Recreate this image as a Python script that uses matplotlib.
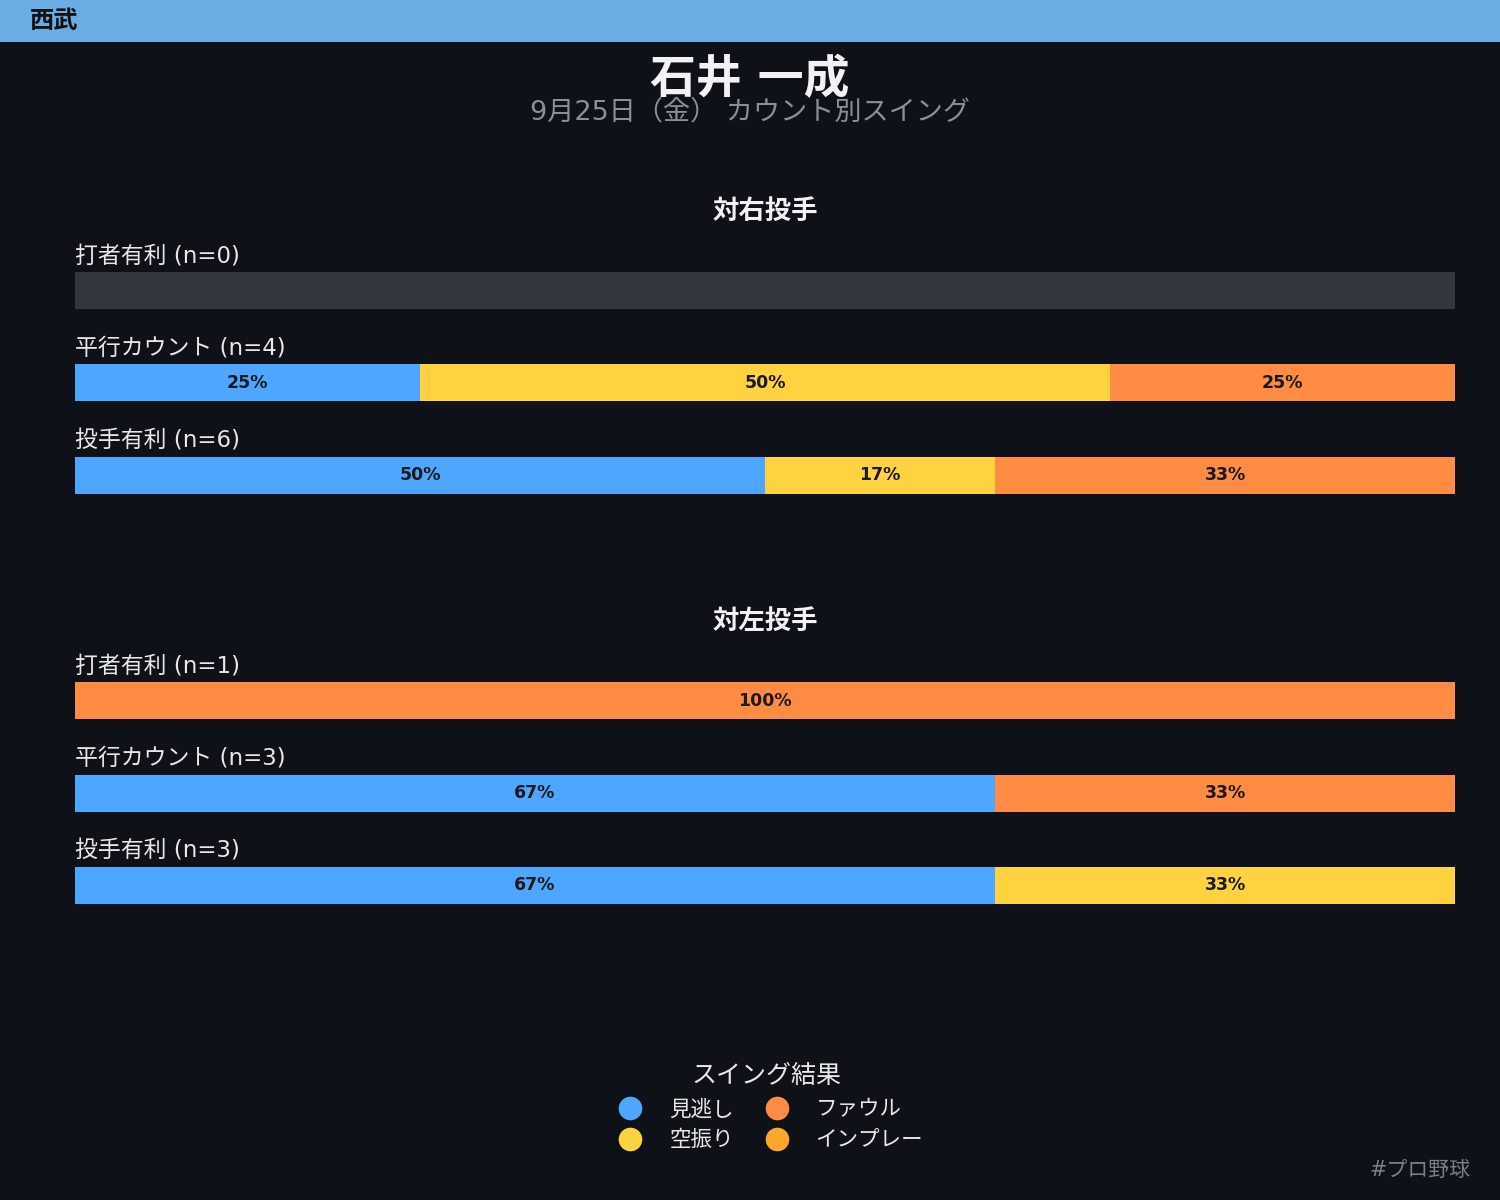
import matplotlib

matplotlib.use("Agg")
import matplotlib.pyplot as plt
from matplotlib.lines import Line2D

plt.rcParams["font.family"] = ["DejaVu Sans", "Noto Sans CJK JP"]

# ── Data ──────────────────────────────────────────────────────────────────────
TEAM = "西武"
PLAYER = "石井 一成"
SUBTITLE = "9月25日（金） カウント別スイング"

RESULTS = ["見逃し", "空振り", "ファウル", "インプレー"]
COUNT_LABELS = ["打者有利", "平行カウント", "投手有利"]

SECTIONS = ["対右投手", "対左投手"]
# counts per row: [見逃し, 空振り, ファウル, インプレー]
VS_RIGHT = [[0, 0, 0, 0], [1, 2, 1, 0], [3, 1, 2, 0]]
VS_LEFT = [[0, 0, 1, 0], [2, 0, 1, 0], [2, 1, 0, 0]]

# ── Style ─────────────────────────────────────────────────────────────────────
BG = "#0e1117"
BAND = "#6aade4"
EMPTY = "#31363f"
COLORS = ["#4da6ff", "#ffd23f", "#ff8c42", "#ffa62b"]
W, H = 1500, 1200


def fx(px):
    return px / W


def fy(py):
    return 1 - py / H


fig = plt.figure(figsize=(15, 12), dpi=100, facecolor=BG)

# team band
band = fig.add_axes([0, fy(42), 1, 42 / H])
band.set_facecolor(BAND)
band.set_xticks([])
band.set_yticks([])
for s in band.spines.values():
    s.set_visible(False)
fig.text(fx(30), fy(21), TEAM, fontsize=17.5, fontweight="bold", color="#111111",
         ha="left", va="center")

fig.text(fx(750), fy(81), PLAYER, fontsize=33, fontweight="bold", color="#f0f2f6",
         ha="center", va="center")
fig.text(fx(750), fy(112), SUBTITLE, fontsize=19.5, color="#8a8f98",
         ha="center", va="center")


def draw_section(data, title, top_px, title_px):
    ax = fig.add_axes([fx(75), fy(top_px + 222), fx(1380), 222 / H])
    ax.set_facecolor(BG)
    ax.set_xlim(0, 1)
    ax.set_ylim(2.2, -0.2)
    ax.axis("off")
    for i, (lab, counts) in enumerate(zip(COUNT_LABELS, data)):
        n = sum(counts)
        ax.text(0, i - 0.2 - 0.05, f"{lab} (n={n})", fontsize=16.5, color="#e8e8e8",
                ha="left", va="bottom")
        if n == 0:
            ax.barh(i, 1, height=0.4, color=EMPTY, left=0)
            continue
        left = 0
        for c, col in zip(counts, COLORS):
            if c == 0:
                continue
            frac = c / n
            ax.barh(i, frac, height=0.4, left=left, color=col)
            ax.text(left + frac / 2, i, f"{frac * 100:.0f}%", fontsize=12.5,
                    fontweight="bold", color="#1a1a1a", ha="center", va="center")
            left += frac
    fig.text(fx(765), fy(title_px), title, fontsize=19, fontweight="bold",
             color="#f0f2f6", ha="center", va="center")


draw_section(VS_RIGHT, SECTIONS[0], 272, 212)
draw_section(VS_LEFT, SECTIONS[1], 682, 622)

handles = [Line2D([], [], ls="none", marker="o", markersize=17, color=c,
                  markeredgewidth=0) for c in COLORS]
leg = fig.legend(handles, RESULTS, loc="upper center", ncol=2,
                 bbox_to_anchor=(fx(766), fy(1045)), frameon=False,
                 title="スイング結果", fontsize=15.5, title_fontsize=18,
                 labelcolor="#e8e8e8", handletextpad=0.8, columnspacing=1.0,
                 labelspacing=0.5)
leg.get_title().set_color("#e8e8e8")

fig.text(fx(1470), fy(1170), "#プロ野球", fontsize=15, color="#7a7f88",
         ha="right", va="center")

fig.savefig("out.png", dpi=100, facecolor=BG)
